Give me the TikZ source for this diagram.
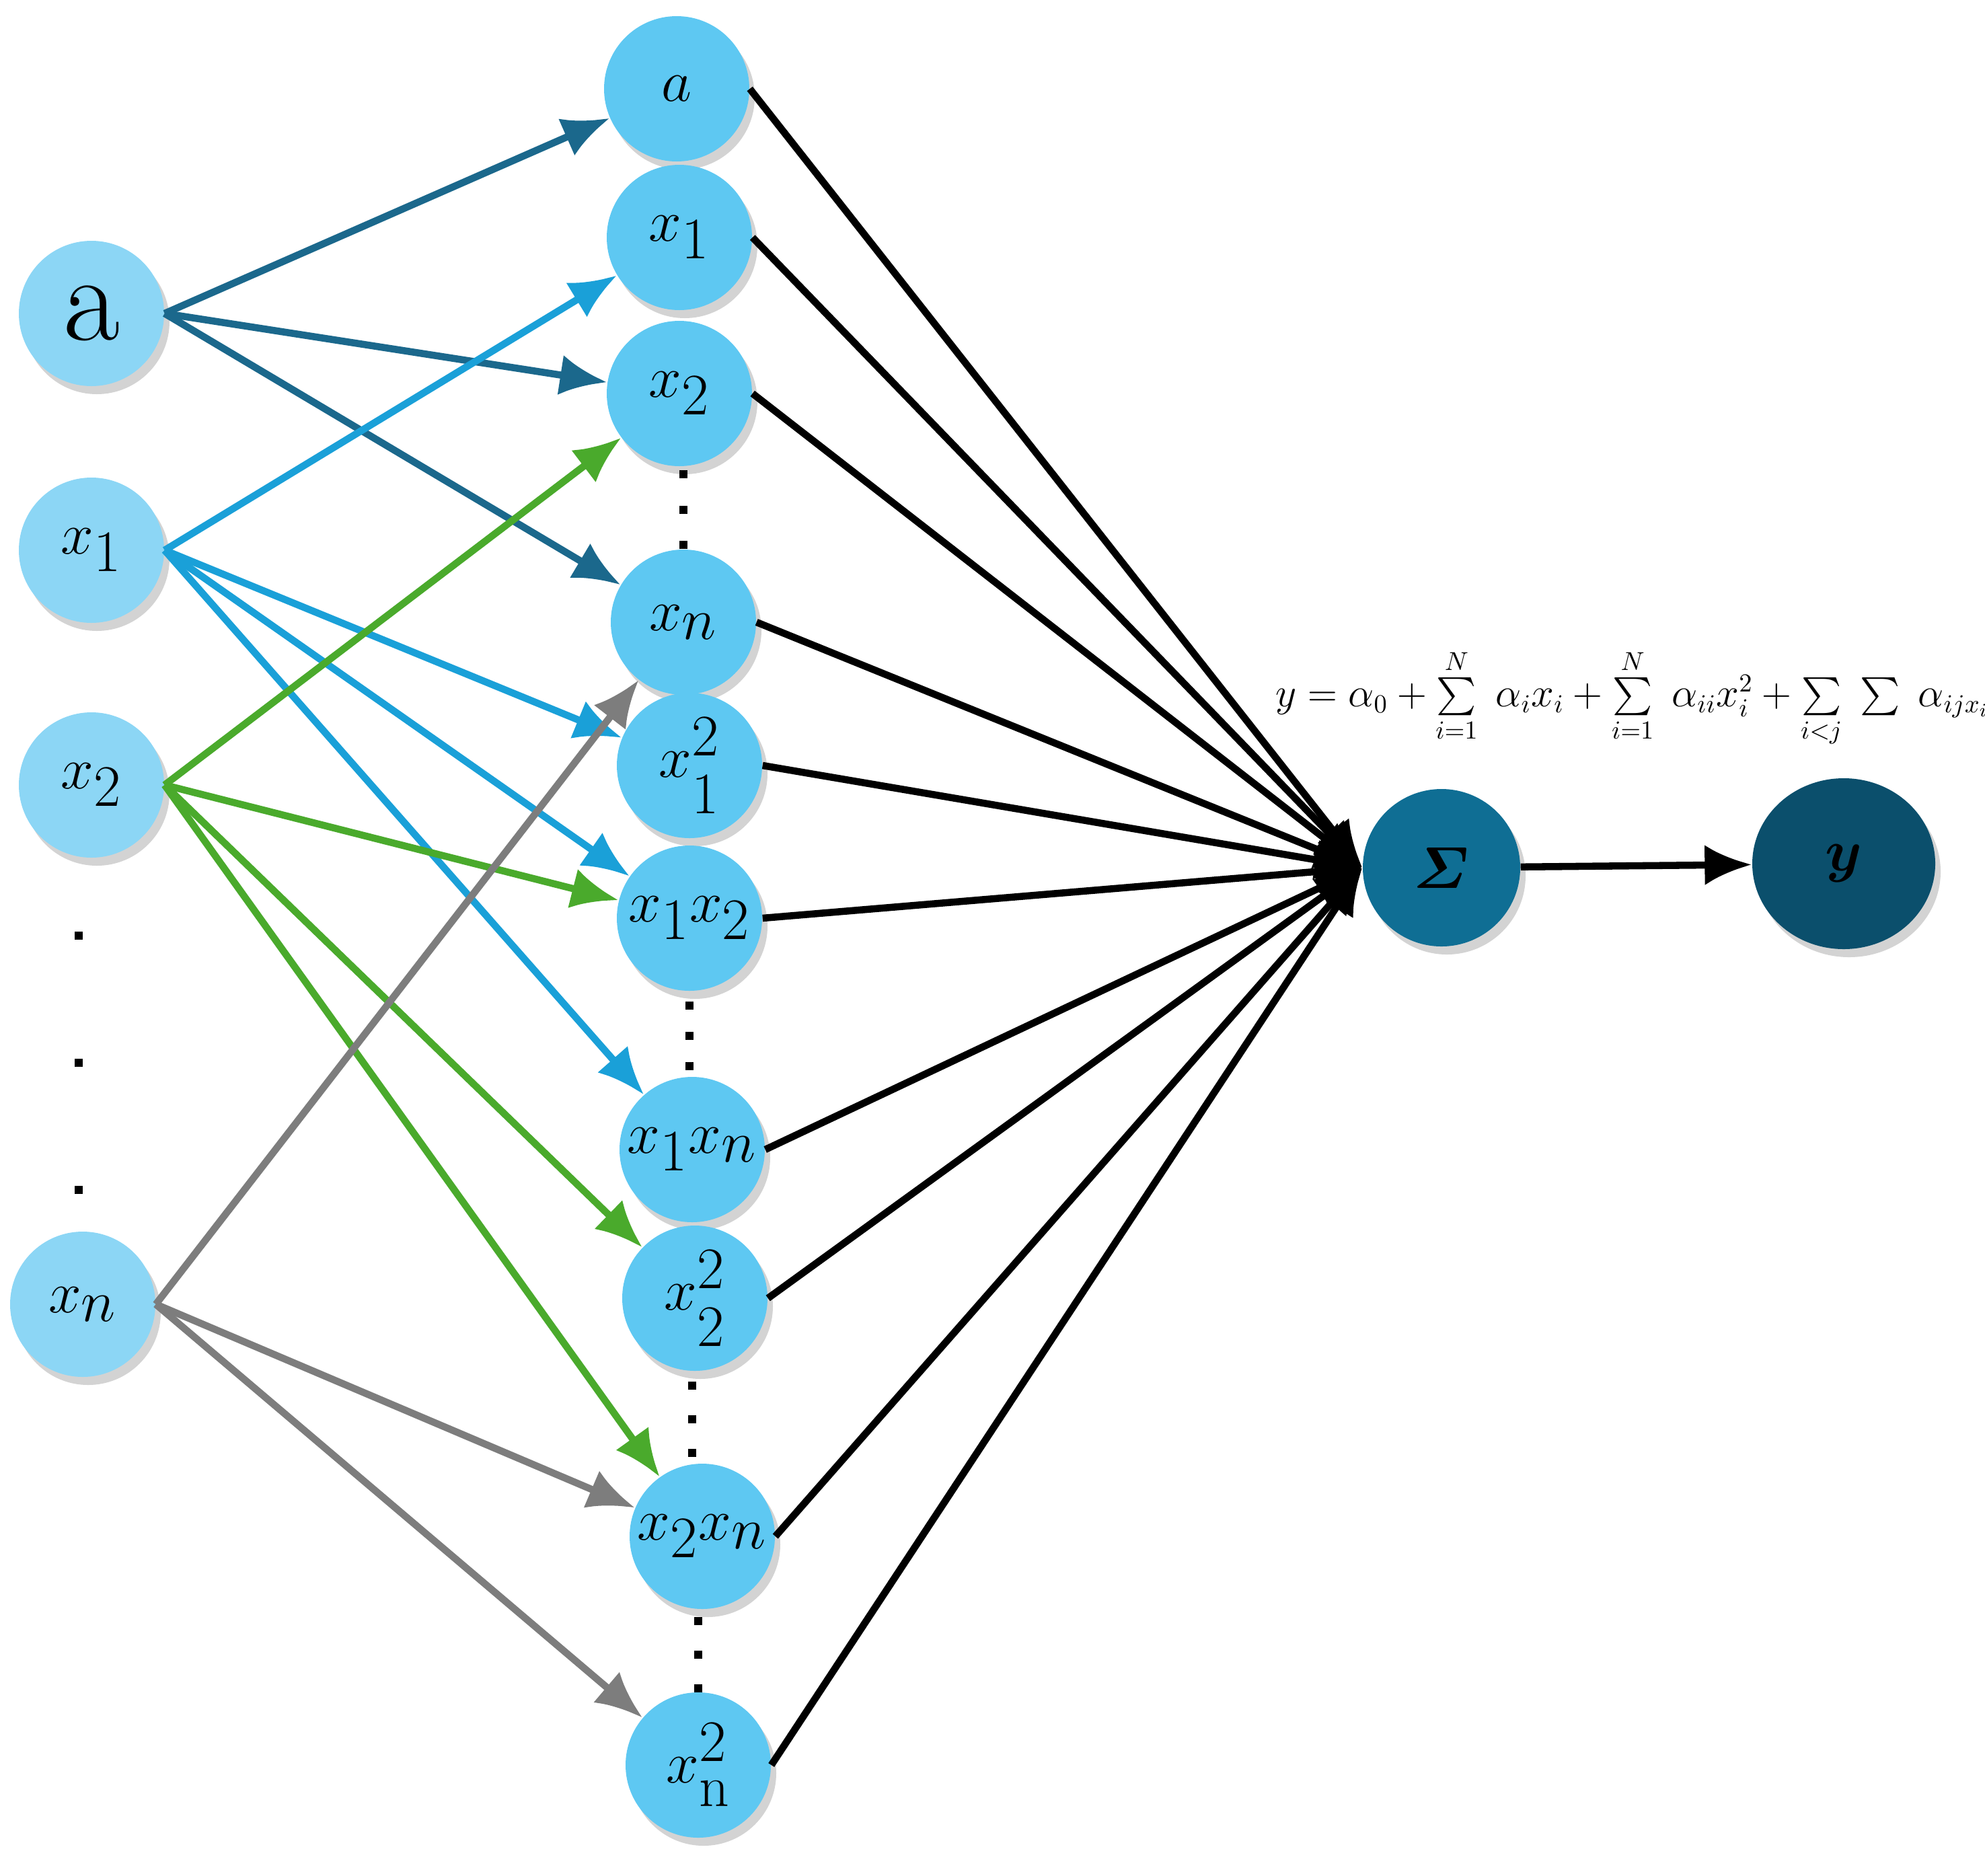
\documentclass[tikz,border=0pt]{standalone}
\usepackage{amsmath,amssymb}
\usetikzlibrary{arrows.meta,shadows,shapes.geometric}
\begin{document}
\begin{tikzpicture}[x=1cm,y=1cm,
  inn/.style={circle,minimum size=2.16cm,inner sep=0pt,draw=none,drop shadow={shadow xshift=0.08cm,shadow yshift=-0.12cm,opacity=0.35}},
  mid/.style={circle,minimum size=2.16cm,inner sep=0pt,fill={rgb,255:red,94;green,200;blue,242},draw=none,drop shadow={shadow xshift=0.08cm,shadow yshift=-0.12cm,opacity=0.35}},
  lab/.style={font=\fontsize{52}{56}\selectfont},
  ar/.style={line width=3pt,-{Latex[length=0.7cm,width=0.6cm]}},
  dot/.style={fill=black,minimum size=0.12cm,inner sep=0pt,rectangle}]
\definecolor{ca}{RGB}{27,104,140}
\definecolor{cx1}{RGB}{26,160,216}
\definecolor{cx2}{RGB}{74,170,44}
\definecolor{cxn}{RGB}{125,125,125}
\definecolor{inf}{RGB}{140,214,245}
\useasboundingbox (0,0) rectangle (29.51,-27.88);
% left
\node[inn,fill=inf,lab] (la) at (1.36,-4.66) {a};
\node[inn,fill=inf,lab] (l1) at (1.36,-8.18) {$x_1$};
\node[inn,fill=inf,lab] (l2) at (1.36,-11.67) {$x_2$};
\node[inn,fill=inf,lab] (ln) at (1.23,-19.39) {$x_n$};
\foreach \y [count=\i] in {13.91,15.80,17.69} \node[dot] (ld\i) at (1.17,-\y) {};
% middle
\node[mid,lab] (ma) at (10.06,-1.32) {$a$};
\node[mid,lab] (m1) at (10.10,-3.53) {$x_1$};
\node[mid,lab] (m2) at (10.10,-5.85) {$x_2$};
\node[mid,lab] (mn) at (10.16,-9.25) {$x_n$};
\node[mid,lab] (m11) at (10.25,-11.38) {$x_1^2$};
\node[mid,lab] (m12) at (10.25,-13.65) {$x_1x_2$};
\node[mid,lab] (m1n) at (10.29,-17.09) {$x_1x_n$};
\node[mid,lab] (m22) at (10.33,-19.30) {$x_2^2$};
\node[mid,lab] (m2n) at (10.44,-22.84) {$x_2x_n$};
\node[mid,lab] (mnn) at (10.38,-26.24) {$x_{\mathrm{n}}^2$};
\foreach \x/\a/\b [count=\i] in {10.16/7.05/8.10, 10.25/14.95/15.85, 10.29/20.60/21.60, 10.38/24.10/25.10}
  {\foreach \t in {0,0.5,1} \node[dot] at (\x,{-\a-\t*(\b-\a)}) {};}
% sigma, y
\node[circle,minimum size=2.34cm,fill={rgb,255:red,15;green,110;blue,148},drop shadow={shadow xshift=0.08cm,shadow yshift=-0.12cm,opacity=0.35},font=\fontsize{66}{70}\selectfont] (s) at (21.43,-12.90) {$\boldsymbol{\varSigma}$};
\node[ellipse,minimum width=2.72cm,minimum height=2.54cm,fill={rgb,255:red,11;green,79;blue,108},drop shadow={shadow xshift=0.08cm,shadow yshift=-0.12cm,opacity=0.35},font=\fontsize{70}{74}\selectfont] (y) at (27.41,-12.84) {$\boldsymbol{y}$};
\draw[ar,black] (s) -- (y);
\node[font=\fontsize{16}{18}\selectfont] (f) at (24.45,-10.38) {$y=\alpha_0+\sum\limits_{i=1}^{N}\;\alpha_i x_i+\sum\limits_{i=1}^{N}\;\alpha_{ii}x_i^2+\sum\limits_{i<j}\;\sum\;\alpha_{ij x_i x_j}$};
% inputs
\foreach \t in {ma,m2,mn} \draw[ar,ca] (la.east) -- (\t);
\foreach \t in {m1,m11,m12,m1n} \draw[ar,cx1] (l1.east) -- (\t);
\foreach \t in {m2,m12,m22,m2n} \draw[ar,cx2] (l2.east) -- (\t);
\foreach \t in {mn,m2n,mnn} \draw[ar,cxn] (ln.east) -- (\t);
% to sigma
\foreach \t in {ma,m1,m2,mn,m11,m12,m1n,m22,m2n,mnn} \draw[ar,black] (\t.east) -- (s.west);
\end{tikzpicture}
\end{document}
